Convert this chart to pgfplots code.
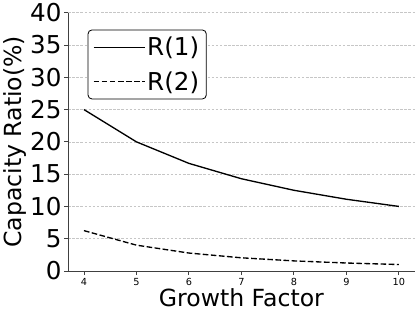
\documentclass[border=0pt]{standalone}
\usepackage{pgfplots}
\pgfplotsset{compat=1.18}
\usepackage{fontspec}
\setmainfont{DejaVu Sans}
\begin{document}
\begin{tikzpicture}
\begin{axis}[
  scale only axis,
  width=338pt, height=252pt,
  xmin=3.7, xmax=10.3, ymin=0, ymax=40,
  axis x line*=bottom, axis y line*=left,
  axis line style={line width=0.8pt, draw=black!75},
  xtick={4,5,6,7,8,9,10},
  ytick={0,5,10,15,20,25,30,35,40},
  tick align=outside,
  tick style={black!75, line width=0.8pt},
  major tick length=4pt,
  /pgf/number format/assume math mode=true,
  xticklabel style={font=\fontsize{9.5}{10}\selectfont},
  yticklabel style={font=\fontsize{24}{26}\selectfont, xshift=1pt},
  xlabel={Growth Factor}, ylabel={Capacity Ratio(\%)},
  xlabel style={font=\fontsize{23}{26}\selectfont, yshift=4pt},
  ylabel style={font=\fontsize{23}{26}\selectfont, yshift=-3pt},
  ymajorgrids,
  grid style={dash pattern=on 2.5pt off 1.5pt, gray!45, line width=0.5pt},
  legend style={at={(0.056,0.935)}, anchor=north west, rounded corners=4pt,
    font=\fontsize{24}{26}\selectfont, draw=black, line width=0.8pt, fill=white,
    row sep=10pt, inner sep=5pt, nodes={inner sep=2pt}},
  legend cell align=left,
  legend image code/.code={\draw[#1, line width=1pt] (0,0) -- (1.75cm,0);},
]
\addplot[black, line width=1.3pt] coordinates {(4,25) (5,20) (6,16.667) (7,14.286) (8,12.5) (9,11.111) (10,10)};
\addlegendentry{R(1)}
\addplot[black, line width=1.3pt, dash pattern=on 5.5pt off 2.4pt] coordinates {(4,6.25) (5,4) (6,2.778) (7,2.041) (8,1.5625) (9,1.235) (10,1)};
\addlegendentry{R(2)}
\end{axis}
\path (current bounding box.south) ++(0,-5pt);
\end{tikzpicture}
\end{document}
